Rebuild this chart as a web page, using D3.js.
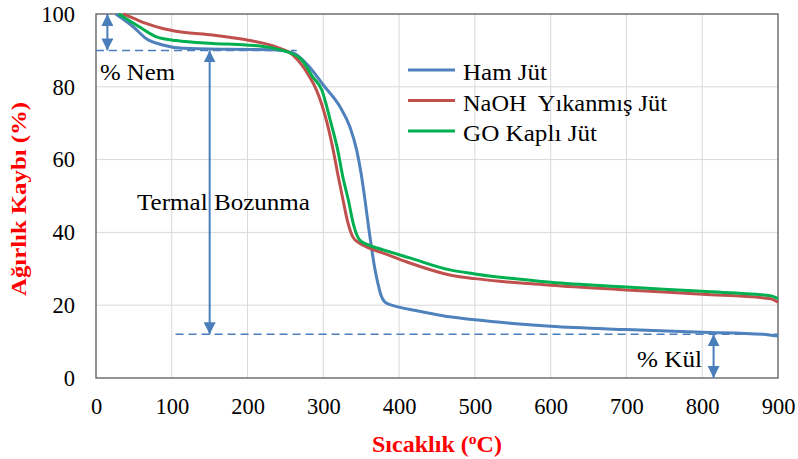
<!doctype html>
<html lang="tr">
<head>
  <meta charset="utf-8">
  <title>TGA</title>
  <style>
    * { margin: 0; padding: 0; }
    body { background: #fff; }
  </style>
</head>
<body>
  <div class="chart"></div>
  <script src="https://cdn.jsdelivr.net/npm/d3@7"></script>
  <script>
    // ---------------------------------------------------------------
    //@@ data
    const xTicks = [0, 100, 200, 300, 400, 500, 600, 700, 800, 900];
    const yTicks = [0, 20, 40, 60, 80, 100];
    const seriesNames = ['Ham Jüt', 'NaOH  Yıkanmış Jüt', 'GO Kaplı Jüt'];
    const seriesColors = ['#4f81bd', '#c0504d', '#00b050'];

    const hamJut = [[26,100],[49,96.5],[66,93.3],[88,91.5],[115,90.6],[175,90.3],[234,90.2],[260,89.3],
      [282,85.4],[300,80.5],[322,74.5],[335,69],[344,62.6],[350,56],[355,48.9],[360,41],[364,35.2],
      [368,30],[372,26],[376,22.8],[381,20.9],[390,20],[401,19.4],[420,18.6],[440,17.8],[467,16.8],
      [500,16],[550,15],[600,14.2],[700,13.3],[800,12.6],[880,12],[900,11.5]];
    const naohJut = [[36,100],[50,98.8],[66,97.4],[88,96],[110,95.1],[154,94.2],[198,92.9],[234,91.2],
      [260,88.7],[282,82.7],[291,79.1],[305,70],[313,62.6],[320,55],[326,48.9],[332,43],[339,38.7],
      [348,37],[357,36],[379,34.3],[414,31.6],[467,28.3],[500,27.3],[600,25.5],[700,24.2],[800,23],
      [890,21.8],[900,20.8]];
    const goJut = [[30,100],[57,96.5],[79,93.8],[106,92.7],[154,91.9],[198,91.5],[234,90.6],[269,87.9],
      [286,82.7],[298,79.1],[309,70.9],[319,62.6],[326,55],[333,48.9],[340,42],[348,37.9],[360,36.5],
      [379,35.2],[414,33],[467,29.7],[500,28.6],[600,26.3],[700,25],[800,23.8],[890,22.6],[900,21.8]];
    const series = [hamJut, naohJut, goJut];

    // annotation levels (%)
    const nemLevel = 90;
    const kulLevel = 12;

    // ---------------------------------------------------------------
    //@@ svg configuration
    const svgDim = {w: 798, h: 459};
    const stage = {l: 96, r: 778, t: 14, b: 378};
    const serif = '"Liberation Serif", "Times New Roman", serif';
    const fs = '22.5px';

    const svg = d3.select('.chart').append('svg')
      .attr('width', svgDim.w)
      .attr('height', svgDim.h);

    const x = d3.scaleLinear().domain([0, 900]).range([stage.l, stage.r]);
    const y = d3.scaleLinear().domain([0, 100]).range([stage.b, stage.t]);

    //@@ arrow marker
    const defs = svg.append('defs');
    defs.append('marker')
      .attr('id', 'arr')
      .attr('viewBox', '0 0 10 10')
      .attr('refX', 10).attr('refY', 5)
      .attr('markerWidth', 6).attr('markerHeight', 6)
      .attr('orient', 'auto-start-reverse')
      .append('path').attr('d', 'M0,0 L10,5 L0,10 Z').attr('fill', '#4a7ebb');

    //@@ grid
    const grid = svg.append('g');
    grid.selectAll('.gx').data(xTicks.slice(1, -1)).enter().append('line')
      .attr('x1', d => x(d)).attr('x2', d => x(d))
      .attr('y1', stage.t).attr('y2', stage.b)
      .attr('stroke', '#d9d9d9').attr('stroke-width', 1);
    grid.selectAll('.gy').data(yTicks.slice(1, -1)).enter().append('line')
      .attr('y1', d => y(d)).attr('y2', d => y(d))
      .attr('x1', stage.l).attr('x2', stage.r)
      .attr('stroke', '#d9d9d9').attr('stroke-width', 1);

    //@@ plot border
    svg.append('rect')
      .attr('x', stage.l).attr('y', stage.t)
      .attr('width', stage.r - stage.l).attr('height', stage.b - stage.t)
      .attr('fill', 'none').attr('stroke', '#595959').attr('stroke-width', 1.3);

    //@@ axes
    const axisX = svg.append('g')
      .attr('transform', `translate(0,${stage.b})`)
      .call(d3.axisBottom(x).tickValues(xTicks).tickSize(0).tickPadding(20));
    axisX.select('.domain').remove();
    axisX.selectAll('text')
      .style('font-family', serif).style('font-size', fs).attr('fill', '#000');

    const axisY = svg.append('g')
      .attr('transform', `translate(${stage.l},0)`)
      .call(d3.axisLeft(y).tickValues(yTicks).tickSize(0).tickPadding(21));
    axisY.select('.domain').remove();
    axisY.selectAll('text')
      .style('font-family', serif).style('font-size', fs).attr('fill', '#000');

    //@@ annotations: dashed levels
    const ann = svg.append('g').attr('stroke', '#4a7ebb').attr('fill', 'none');
    ann.append('line')
      .attr('x1', x(0)).attr('x2', x(265))
      .attr('y1', y(nemLevel)).attr('y2', y(nemLevel))
      .attr('stroke-width', 1.5).attr('stroke-dasharray', '8,5');
    ann.append('line')
      .attr('x1', x(105)).attr('x2', x(900))
      .attr('y1', y(kulLevel)).attr('y2', y(kulLevel))
      .attr('stroke-width', 1.5).attr('stroke-dasharray', '8,5');

    //@@ curves
    const line = d3.line().x(d => x(d[0])).y(d => y(d[1])).curve(d3.curveMonotoneX);
    svg.append('g').selectAll('path').data(series).enter().append('path')
      .attr('d', line)
      .attr('fill', 'none')
      .attr('stroke', (d, i) => seriesColors[i])
      .attr('stroke-width', 3)
      .attr('stroke-linejoin', 'round');

    //@@ double arrows
    const arrows = [
      {t: 15, from: 100, to: nemLevel},
      {t: 150, from: nemLevel, to: kulLevel},
      {t: 815, from: kulLevel, to: 0}
    ];
    ann.selectAll('.arr').data(arrows).enter().append('line')
      .attr('x1', d => x(d.t)).attr('x2', d => x(d.t))
      .attr('y1', d => y(d.from)).attr('y2', d => y(d.to))
      .attr('stroke-width', 2)
      .attr('marker-start', 'url(#arr)')
      .attr('marker-end', 'url(#arr)');

    //@@ annotation labels
    const labels = [
      {text: '% Nem', x: 100, y: 80, len: 75},
      {text: 'Termal Bozunma', x: 137, y: 210, len: 173},
      {text: '% Kül', x: 637, y: 367, len: 65}
    ];
    svg.append('g').selectAll('text').data(labels).enter().append('text')
      .attr('x', d => d.x).attr('y', d => d.y)
      .attr('textLength', d => d.len).attr('lengthAdjust', 'spacingAndGlyphs')
      .attr('fill', '#000')
      .style('font-family', serif).style('font-size', fs)
      .text(d => d.text);

    //@@ legend
    const legendLen = [84, 204, 134];
    const legend = svg.append('g').attr('transform', 'translate(408,70)');
    const li = legend.selectAll('g').data(seriesNames).enter().append('g')
      .attr('transform', (d, i) => `translate(0,${i * 30.5})`);
    li.append('line').attr('x1', 0).attr('x2', 47).attr('y1', 0).attr('y2', 0)
      .attr('stroke', (d, i) => seriesColors[i]).attr('stroke-width', 3);
    li.append('text').attr('x', 55).attr('y', 10).attr('fill', '#000')
      .attr('textLength', (d, i) => legendLen[i]).attr('lengthAdjust', 'spacingAndGlyphs')
      .style('font-family', serif).style('font-size', fs)
      .style('white-space', 'pre')
      .text(d => d);

    //@@ axis titles
    const xt = svg.append('text')
      .attr('x', 372).attr('y', 452)
      .attr('textLength', 130).attr('lengthAdjust', 'spacingAndGlyphs')
      .style('font-family', serif).style('font-size', '23px')
      .attr('font-weight', 'bold').attr('fill', '#ff0000');
    xt.append('tspan').text('Sıcaklık (');
    xt.append('tspan').style('font-size', '15px').attr('dy', -8).text('o');
    xt.append('tspan').attr('dy', 8).text('C)');

    svg.append('text')
      .attr('transform', 'translate(26,296) rotate(-90)')
      .attr('textLength', 194).attr('lengthAdjust', 'spacingAndGlyphs')
      .style('font-family', serif).style('font-size', '21px')
      .attr('font-weight', 'bold').attr('fill', '#ff0000')
      .text('Ağırlık Kaybı (%)');
  </script>
</body>
</html>
